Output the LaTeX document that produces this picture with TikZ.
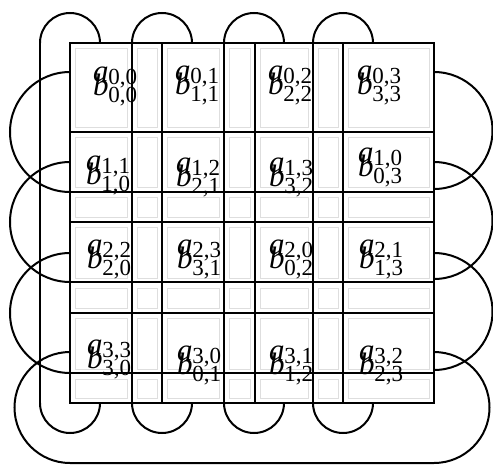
\documentclass[tikz,border=0pt]{standalone}
\usepackage{fontspec}
\setmainfont{Liberation Serif}
\newcommand{\lab}[3]{\textit{#1}\kern-0.3pt\raisebox{-#3}{\fontsize{23}{23}\selectfont #2}}
\begin{document}
\begin{tikzpicture}[x=1pt,y=1pt,yscale=-1,
  strand/.style={line width=2pt,black},
  ghost/.style={line width=0.5pt,black!13},
  lbl/.style={anchor=base west,inner sep=0pt,font=\fontsize{31}{31}\selectfont}]
\useasboundingbox (0,0) rectangle (493,466);
% faint inner boxes
\foreach \xa/\xb in {70/132,132/162,162/224,224/255,255/313,313/343,343/434}{
  \foreach \ya/\yb in {43/132,132/192,192/222,222/283,283/313,313/374,374/403}{
    \draw[ghost] (\xa+5,\ya+5) rectangle (\xb-5,\yb-5);
  }
}
% square and cell boundaries
\draw[strand] (70,43) rectangle (434,403);
\foreach \x in {162,255,343} \draw[strand] (\x,43) -- (\x,403);
\foreach \y in {132,222,313} \draw[strand] (70,\y) -- (434,\y);
% column loops
\foreach \c in {70,162,254,343}{
  \draw[strand] (\c-30,43) arc[start angle=180,end angle=360,radius=30];
  \draw[strand] (\c-30,403) arc[start angle=180,end angle=0,radius=30];
  \draw[strand] (\c-30,43) -- (\c-30,403);
}
% row loops
\foreach \r in {132,222,313}{
  \draw[strand] (70,\r-60) arc[start angle=270,end angle=90,radius=60];
  \draw[strand] (434,\r-60) arc[start angle=-90,end angle=90,radius=58.5];
  \draw[strand] (70,\r+60) -- (434,\r+60);
}
\draw[strand] (70,352) arc[start angle=270,end angle=90,radius=55.5]
  -- (434,463) arc[start angle=90,end angle=-90,radius=55.5];
% labels
\newcommand{\cell}[5]{%
  \node[lbl] (a#1) at (#2,#3) {\lab{a}{#4}{3pt}};
  \node[lbl] (b#1) at (#2,#3+14) {\lab{b}{#5}{7.5pt}};}
\cell{00}{93}{81}{0,0}{0,0}
\cell{01}{175}{80}{0,1}{1,1}
\cell{02}{268}{80}{0,2}{2,2}
\cell{03}{357}{80}{0,3}{3,3}
\cell{10}{86}{170}{1,1}{1,0}
\cell{11}{176}{172}{1,2}{2,1}
\cell{12}{269}{172}{1,3}{3,2}
\cell{13}{358}{162}{1,0}{0,3}
\cell{20}{87}{254}{2,2}{2,0}
\cell{21}{177}{254}{2,3}{3,1}
\cell{22}{269}{254}{2,0}{0,2}
\cell{23}{359}{254}{2,1}{1,3}
\cell{30}{87}{354}{3,3}{3,0}
\cell{31}{177}{360}{3,0}{0,1}
\cell{32}{269}{360}{3,1}{1,2}
\cell{33}{359}{360}{3,2}{2,3}
\end{tikzpicture}
\end{document}
